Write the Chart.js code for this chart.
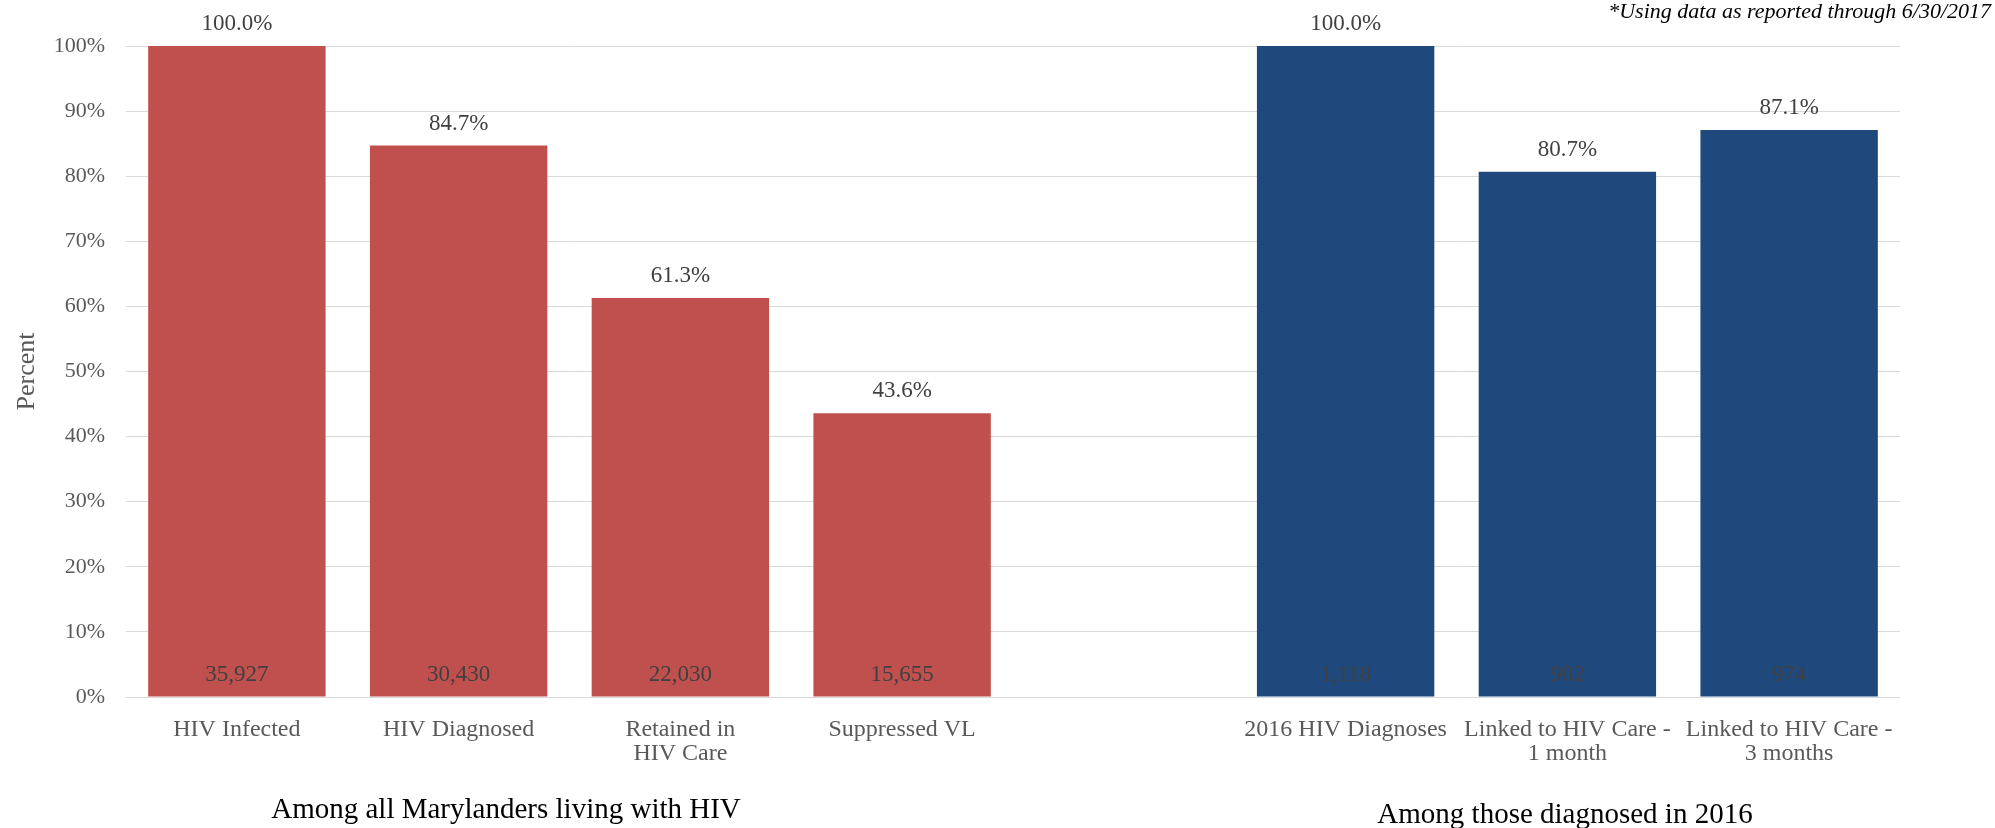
<!DOCTYPE html>
<html>
<head>
<meta charset="utf-8">
<script src="https://cdn.jsdelivr.net/npm/chart.js@4"></script>
<style>
  body { margin: 0; background: #fff; }
  #wrap { width: 1995px; height: 828px; }
</style>
</head>
<body>
<div id="wrap"><canvas id="cascade" width="1995" height="828"></canvas></div>
<script>
// categories (empty slot separates the two groups)
const categories = [
    'HIV Infected',
    'HIV Diagnosed',
    ['Retained in', 'HIV Care'],
    'Suppressed VL',
    '',
    '2016 HIV Diagnoses',
    ['Linked to HIV Care -', '1 month'],
    ['Linked to HIV Care -', '3 months']
]
const percents = [100, 84.7, 61.3, 43.6, null, 100, 80.7, 87.1]
const counts = [35927, 30430, 22030, 15655, null, 1118, 902, 974]
const yTicks = [0, 10, 20, 30, 40, 50, 60, 70, 80, 90, 100]
const groupLabels = ['Among all Marylanders living with HIV', 'Among those diagnosed in 2016']
const note = '*Using data as reported through 6/30/2017'

const red = '#C0504D'
const blue = '#1F497D'
const barColors = [red, red, red, red, red, blue, blue, blue]

const serif = '"Liberation Serif", "Times New Roman", serif'

const labelPlugin = {
    id: 'barLabels',
    afterDatasetsDraw(chart) {
        const ctx = chart.ctx;
        const meta = chart.getDatasetMeta(0);
        ctx.save();
        ctx.textAlign = 'center';
        ctx.textBaseline = 'middle';
        ctx.font = '23px ' + serif;
        ctx.fillStyle = '#404040';
        meta.data.forEach((bar, i) => {
            if (percents[i] == null) return;
            ctx.fillText(percents[i].toFixed(1) + '%', bar.x, bar.y - 22);
            ctx.fillText(counts[i].toLocaleString('en-US'), bar.x, bar.base - 22);
        });

        // group captions under the axis
        ctx.fillStyle = '#000';
        ctx.font = '29px ' + serif;
        ctx.fillText(groupLabels[0], 506, 810);
        ctx.fillText(groupLabels[1], 1565, 815);

        // note top right
        ctx.font = 'italic 22px ' + serif;
        ctx.textAlign = 'right';
        ctx.fillText(note, 1991, 12);
        ctx.restore();
    }
};

new Chart(document.getElementById('cascade'), {
    type: 'bar',
    data: {
        labels: categories,
        datasets: [{
            data: percents,
            backgroundColor: barColors,
            categoryPercentage: 1,
            barPercentage: 0.8
        }]
    },
    options: {
        responsive: false,
        animation: false,
        layout: { padding: { top: 46, right: 95, left: 0, bottom: 0 } },
        plugins: {
            legend: { display: false },
            tooltip: { enabled: false }
        },
        scales: {
            x: {
                grid: { display: false },
                border: { display: false },
                ticks: {
                    color: '#595959',
                    font: { family: serif, size: 24, lineHeight: 1.0 },
                    padding: 13,
                    maxRotation: 0,
                    autoSkip: false
                },
                afterFit: s => { s.height = 131; }
            },
            y: {
                min: 0,
                max: 100,
                afterBuildTicks: s => { s.ticks = yTicks.map(v => ({ value: v })); },
                grid: { color: '#D9D9D9', lineWidth: 1, drawTicks: false },
                border: { display: false },
                ticks: {
                    color: '#595959',
                    font: { family: serif, size: 22 },
                    padding: 21,
                    callback: v => v + '%'
                },
                title: {
                    display: true,
                    text: 'Percent',
                    color: '#595959',
                    font: { family: serif, size: 26 },
                    padding: { top: 12, bottom: 0 }
                },
                afterFit: s => { s.width = 126; }
            }
        }
    },
    plugins: [labelPlugin]
});
</script>
</body>
</html>
